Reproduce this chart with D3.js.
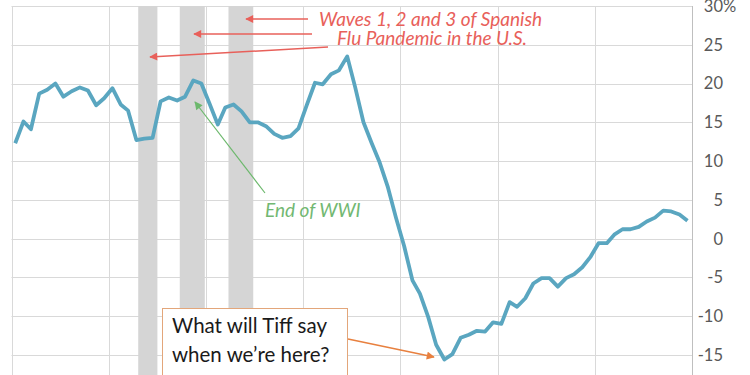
<!DOCTYPE html>
<html lang="en">
  <head>
    <meta charset="UTF-8" />
    <title>CPI year over year, 1917-1923</title>
    <script src="https://d3js.org/d3.v7.min.js"></script>
    <style>
      body {
        margin: 0;
        padding: 0;
        background: #ffffff;
        font-family: Lato, "Open Sans", sans-serif;
      }
      .grid line {
        stroke: #d9d9d9;
        stroke-width: 1;
      }
      .tick-label {
        font-size: 16.5px;
        fill: #595959;
      }
      .note {
        font-style: italic;
        font-size: 19px;
      }
    </style>
  </head>
  <body>
    <div id="chart"></div>

    <script>
      const width = 750;
      const height = 375;

      // monthly year-over-year change
      const years = [1917, 1918, 1919, 1920, 1921, 1922, 1923];
      const v1917 = [12.3, 15.1, 14.1, 18.7, 19.2, 20.0, 18.3, 19.0, 19.5, 19.1, 17.2, 18.1];
      const v1918 = [19.4, 17.3, 16.5, 12.7, 12.9, 13.0, 17.7, 18.2, 17.8, 18.3, 20.4, 20.0];
      const v1919 = [17.4, 14.7, 16.9, 17.3, 16.4, 15.0, 15.0, 14.5, 13.5, 13.0, 13.2, 14.2];
      const v1920 = [17.2, 20.1, 19.9, 21.2, 21.7, 23.5, 19.5, 15.0, 12.3, 9.8, 6.6, 2.7];
      const v1921 = [-1.0, -5.4, -7.1, -10.1, -13.7, -15.6, -14.9, -12.8, -12.4, -11.9, -12.0, -10.8];
      const v1922 = [-11.0, -8.2, -8.8, -7.7, -5.8, -5.1, -5.1, -6.2, -5.1, -4.6, -3.7, -2.4];
      const v1923 = [-0.6, -0.6, 0.5, 1.2, 1.2, 1.5, 2.2, 2.7, 3.6, 3.5, 3.1, 2.3];
      const byYear = [v1917, v1918, v1919, v1920, v1921, v1922, v1923];

      const yTicks = [30, 25, 20, 15, 10, 5, 0, -5, -10, -15];

      // the three flu waves (grey columns)
      const fluWaves = [
        ["1918-04-22", "1918-07-03"],
        ["1918-09-25", "1918-12-28"],
        ["1919-03-27", "1919-06-28"],
      ];

      const wavesText = ["Waves 1, 2 and 3 of Spanish", "Flu Pandemic in the U.S."];
      const wwiText = "End of WWI";
      const boxText = ["What will Tiff say", "when we\u2019re here?"];

      const data = [];
      years.forEach((yr, i) => {
        byYear[i].forEach((v, m) => {
          data.push({ date: new Date(yr, m, 15), value: v });
        });
      });

      const x = d3
        .scaleTime()
        .domain([new Date(1917, 0, 1), new Date(1924, 0, 1)])
        .range([11.5, 692]);

      const y = d3.scaleLinear().domain([-17.6, 30]).range([375, 6]);

      const svg = d3
        .select("#chart")
        .append("svg")
        .attr("width", width)
        .attr("height", height);

      const defs = svg.append("defs");
      function arrowHead(id, color) {
        defs
          .append("marker")
          .attr("id", id)
          .attr("viewBox", "0 0 10 10")
          .attr("refX", 9)
          .attr("refY", 5)
          .attr("markerWidth", 10)
          .attr("markerHeight", 8)
          .attr("markerUnits", "userSpaceOnUse")
          .attr("orient", "auto")
          .append("path")
          .attr("d", "M0,0 L10,5 L0,10 z")
          .attr("fill", color);
      }
      arrowHead("red", "#e8605a");
      arrowHead("green", "#6cb86c");
      arrowHead("orange", "#e8803f");

      // gridlines
      const grid = svg.append("g").attr("class", "grid");
      grid
        .selectAll(".h")
        .data(yTicks)
        .enter()
        .append("line")
        .attr("x1", x.range()[0])
        .attr("x2", x.range()[1])
        .attr("y1", (d) => Math.round(y(d)) + 0.5)
        .attr("y2", (d) => Math.round(y(d)) + 0.5);
      grid
        .selectAll(".v")
        .data(x.ticks(d3.timeYear))
        .enter()
        .append("line")
        .attr("x1", (d) => Math.round(x(d)) + 0.5)
        .attr("x2", (d) => Math.round(x(d)) + 0.5)
        .attr("y1", y(30))
        .attr("y2", height);

      // flu waves
      svg
        .append("g")
        .selectAll("rect")
        .data(fluWaves)
        .enter()
        .append("rect")
        .attr("x", (d) => x(new Date(d[0])))
        .attr("width", (d) => x(new Date(d[1])) - x(new Date(d[0])))
        .attr("y", y(30))
        .attr("height", height - y(30))
        .attr("fill", "#d5d5d5");

      // right axis border
      svg
        .append("line")
        .attr("x1", 692.5)
        .attr("x2", 692.5)
        .attr("y1", y(30))
        .attr("y2", height)
        .attr("stroke", "#bfbfbf");

      // y labels
      const labels = svg.append("g");
      labels
        .selectAll("text")
        .data(yTicks)
        .enter()
        .append("text")
        .attr("class", "tick-label")
        .attr("x", 723)
        .attr("y", (d) => y(d))
        .attr("dy", "0.36em")
        .attr("text-anchor", "end")
        .text((d) => d);
      labels
        .append("text")
        .attr("class", "tick-label")
        .attr("x", 723)
        .attr("y", y(30))
        .attr("dy", "0.36em")
        .text("%");

      // the series
      const line = d3
        .line()
        .x((d) => x(d.date))
        .y((d) => y(d.value));
      svg
        .append("path")
        .datum(data)
        .attr("d", line)
        .attr("fill", "none")
        .attr("stroke", "#5aa6c0")
        .attr("stroke-width", 3.8)
        .attr("stroke-linejoin", "round");

      // flu annotation
      const red = "#e8605a";
      [
        [308, 19, 246, 19],
        [312, 34, 194, 34],
        [328, 47, 150, 57],
      ].forEach((a) => {
        svg
          .append("line")
          .attr("x1", a[0])
          .attr("y1", a[1])
          .attr("x2", a[2])
          .attr("y2", a[3])
          .attr("stroke", red)
          .attr("stroke-width", 1.5)
          .attr("marker-end", "url(#red)");
      });
      svg
        .append("text")
        .attr("class", "note")
        .attr("x", 319)
        .attr("y", 26)
        .attr("fill", red)
        .text(wavesText[0]);
      svg
        .append("text")
        .attr("class", "note")
        .attr("x", 337)
        .attr("y", 45)
        .attr("fill", red)
        .text(wavesText[1]);

      // end of WWI
      svg
        .append("line")
        .attr("x1", 265)
        .attr("y1", 193)
        .attr("x2", 195)
        .attr("y2", 102)
        .attr("stroke", "#6cb86c")
        .attr("stroke-width", 1.2)
        .attr("marker-end", "url(#green)");
      svg
        .append("text")
        .attr("class", "note")
        .attr("x", 265)
        .attr("y", 217)
        .attr("fill", "#72b872")
        .text(wwiText);

      // callout box
      svg
        .append("line")
        .attr("x1", 348)
        .attr("y1", 339)
        .attr("x2", 434)
        .attr("y2", 357)
        .attr("stroke", "#e8803f")
        .attr("stroke-width", 1.5)
        .attr("marker-end", "url(#orange)");
      svg
        .append("rect")
        .attr("x", 162.5)
        .attr("y", 308.5)
        .attr("width", 185)
        .attr("height", 80)
        .attr("fill", "#ffffff")
        .attr("stroke", "#e3a67a")
        .attr("stroke-width", 1);
      boxText.forEach((t, i) => {
        svg
          .append("text")
          .attr("x", 172)
          .attr("y", 333 + i * 29)
          .attr("font-size", "20.5px")
          .attr("fill", "#1a1a1a")
          .text(t);
      });
    </script>
  </body>
</html>
